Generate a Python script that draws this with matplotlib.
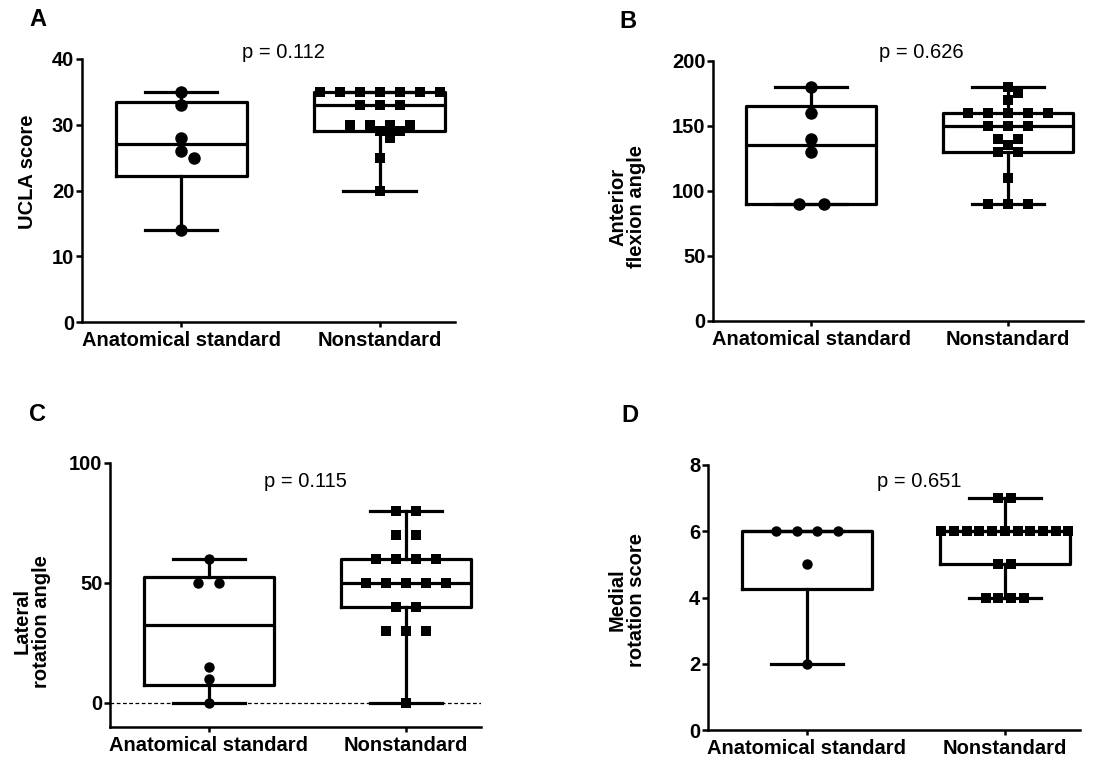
import numpy as np
import matplotlib
matplotlib.use("Agg")
import matplotlib.pyplot as plt

plt.rcParams['font.family'] = ['Liberation Sans', 'DejaVu Sans']
plt.rcParams['font.weight'] = 'bold'

groups = ["Anatomical standard", "Nonstandard"]

# values
ucla_anat = [35, 33, 28, 26, 25, 14]
ucla_non = [35, 35, 35, 35, 35, 35, 35, 33, 33, 33, 30, 30, 30, 30, 29, 29, 28, 25, 20]
flex_anat = [180, 160, 140, 130, 90, 90]
flex_non = [180, 175, 170, 160, 160, 160, 160, 160, 150, 150, 150,
            140, 140, 135, 130, 130, 110, 90, 90, 90]
lat_anat = [60, 50, 50, 15, 10, 0]
lat_non = [80, 80, 70, 70, 60, 60, 60, 60, 50, 50, 50, 50, 50,
           40, 40, 30, 30, 30, 0]
med_anat = [6, 6, 6, 6, 5, 2]
med_non = [7, 7, 6, 6, 6, 6, 6, 6, 6, 6, 6, 6, 6, 5, 5, 4, 4, 4, 4]

p_values = ["p = 0.112", "p = 0.626", "p = 0.115", "p = 0.651"]

W, H = 1102, 762
fig = plt.figure(figsize=(W / 100, H / 100), dpi=100)


def px_axes(left, top, right, bottom):
    return fig.add_axes([left / W, 1 - bottom / H, (right - left) / W, (bottom - top) / H])


def spread(ax, values, pos, size_px, step_px, max_w_px=140):
    # simple column scatter: spread equal values sideways, avoid overlaps
    b = ax.get_position()
    x0, x1 = ax.get_xlim()
    y0, y1 = ax.get_ylim()
    px_x = b.width * W / (x1 - x0)
    px_y = b.height * H / (y1 - y0)
    uniq, counts = np.unique(values, return_counts=True)
    order = np.argsort(uniq)[::-1]
    step = min(step_px, max_w_px / counts.max())
    placed = []
    xs, ys = [], []
    for i in order:
        v, c = uniq[i], counts[i]
        base = (np.arange(c) - (c - 1) / 2) * step
        y = v * px_y
        for k in [0, 0.5, -0.5, 1, -1, 1.5, -1.5, 2, -2]:
            trial = base + k * step
            ok = all(not (abs(x - px) < size_px * 0.9 and abs(y - py) < size_px * 0.75)
                     for x in trial for (px, py) in placed)
            if ok:
                break
        for x in trial:
            placed.append((x, y))
            xs.append(pos + x / px_x)
            ys.append(v)
    return xs, ys


def box_stats(values):
    q1, med, q3 = np.percentile(values, [25, 50, 75], method='weibull')
    return dict(med=med, q1=q1, q3=q3, whislo=min(values), whishi=max(values), fliers=[])


panels = [
    dict(letter="A", data=(ucla_anat, ucla_non), ylabel="UCLA score",
         ylim=(0, 40), yticks=[0, 10, 20, 30, 40], rect=(82, 59, 455, 322),
         lab=(-0.147, 0.57), p=(283, 52), lpos=(38, 20), ms=(9, 7.5)),
    dict(letter="B", data=(flex_anat, flex_non), ylabel="Anterior\nflexion angle",
         ylim=(0, 200), yticks=[0, 50, 100, 150, 200], rect=(713, 61, 1083, 321),
         lab=(-0.232, 0.44), p=(921, 52), lpos=(628, 21), ms=(9, 7.5)),
    dict(letter="C", data=(lat_anat, lat_non), ylabel="Lateral\nrotation angle",
         ylim=(-10, 100), yticks=[0, 50, 100], rect=(110, 463, 481, 727),
         lab=(-0.21, 0.40), p=(305, 482), lpos=(38, 415), ms=(7.5, 7.5)),
    dict(letter="D", data=(med_anat, med_non), ylabel="Medial\nrotation score",
         ylim=(0, 8), yticks=[0, 2, 4, 6, 8], rect=(708, 465, 1080, 730),
         lab=(-0.218, 0.49), p=(919, 482), lpos=(630, 416), ms=(7.5, 6.5)),
]

for i, pnl in enumerate(panels):
    ax = px_axes(*pnl["rect"])
    ax.set_xlim(-0.5, 1.38)
    ax.set_ylim(*pnl["ylim"])
    ax.set_yticks(pnl["yticks"])
    ax.set_xticks([0, 1])
    ax.set_xticklabels(groups)
    for s in ["top", "right"]:
        ax.spines[s].set_visible(False)
    for s in ["left", "bottom"]:
        ax.spines[s].set_linewidth(1.8)
    ax.tick_params(axis="y", direction="out", length=4.5, width=1.8, labelsize=14.5, pad=1)
    ax.tick_params(axis="x", direction="out", length=3.5, width=1.8, labelsize=14.5, pad=3)
    ax.set_ylabel(pnl["ylabel"], fontsize=14.5, fontweight="bold", linespacing=1.0,
                  va="center")
    ax.yaxis.set_label_coords(*pnl["lab"])

    if pnl["letter"] == "C":
        ax.axhline(0, color="black", lw=0.9, ls=(0, (3, 2)), zorder=1)

    stats = [box_stats(v) for v in pnl["data"]]
    lp = dict(color="black", linewidth=2.3)
    ax.bxp(stats, positions=[0, 1], widths=0.66, capwidths=0.365, showfliers=False,
           boxprops=lp, whiskerprops=lp, capprops=lp, medianprops=lp,
           manage_ticks=False, zorder=2)

    dot_ms, sq_ms = pnl["ms"]
    xs, ys = spread(ax, pnl["data"][0], 0, dot_ms * 100 / 72, 2 * dot_ms * 100 / 72)
    ax.plot(xs, ys, ls="none", marker="o", ms=dot_ms, mew=0, color="black", zorder=3,
            clip_on=False)
    xs, ys = spread(ax, pnl["data"][1], 1, sq_ms * 100 / 72, 20)
    ax.plot(xs, ys, ls="none", marker="s", ms=sq_ms, mew=0, color="black", zorder=3,
            clip_on=False)

    fig.text(pnl["p"][0] / W, 1 - pnl["p"][1] / H, p_values[i], ha="center", va="center",
             fontsize=14.5, fontweight="normal")
    fig.text(pnl["lpos"][0] / W, 1 - pnl["lpos"][1] / H, pnl["letter"], ha="center",
             va="center", fontsize=17, fontweight="bold")

fig.savefig("out.png", dpi=100)
